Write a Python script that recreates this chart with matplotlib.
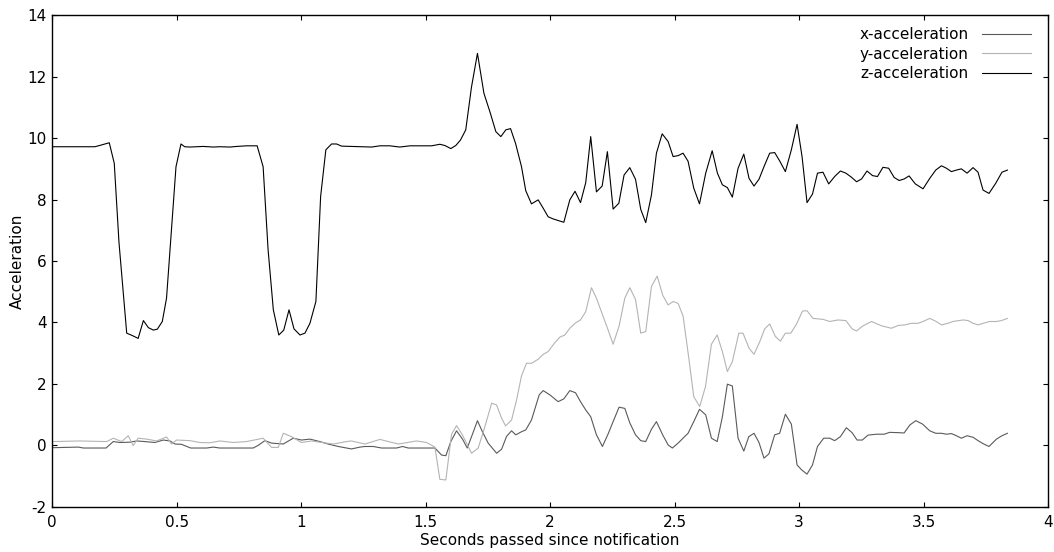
import matplotlib
matplotlib.use('Agg')
import matplotlib.pyplot as plt
from matplotlib.ticker import MultipleLocator, FormatStrFormatter

# time stamps (s) and readings for each axis
x_t = [0.000, 0.105, 0.125, 0.216, 0.245, 0.272, 0.312, 0.339, 0.372, 0.412,
       0.446, 0.473, 0.493, 0.519, 0.556, 0.620, 0.647, 0.673, 0.807, 0.828,
       0.854, 0.881, 0.928, 0.968, 1.001, 1.035, 1.075, 1.108, 1.149, 1.202,
       1.236, 1.256, 1.289, 1.323, 1.383, 1.407, 1.430, 1.537, 1.564, 1.581,
       1.601, 1.624, 1.648, 1.667, 1.688, 1.708, 1.728, 1.751, 1.785, 1.805,
       1.825, 1.845, 1.862, 1.885, 1.902, 1.925, 1.956, 1.972, 1.999, 2.032,
       2.055, 2.079, 2.102, 2.122, 2.143, 2.163, 2.186, 2.210, 2.233, 2.253,
       2.277, 2.300, 2.320, 2.343, 2.364, 2.384, 2.407, 2.427, 2.452, 2.474,
       2.491, 2.514, 2.534, 2.554, 2.577, 2.600, 2.625, 2.648, 2.671, 2.692,
       2.712, 2.732, 2.755, 2.778, 2.798, 2.819, 2.839, 2.859, 2.879, 2.902,
       2.922, 2.945, 2.969, 2.992, 3.010, 3.032, 3.054, 3.074, 3.099, 3.123,
       3.143, 3.166, 3.190, 3.213, 3.233, 3.254, 3.277, 3.311, 3.342, 3.364,
       3.400, 3.422, 3.445, 3.469, 3.496, 3.525, 3.549, 3.572, 3.592, 3.612,
       3.632, 3.652, 3.675, 3.699, 3.719, 3.742, 3.763, 3.793, 3.815, 3.837]
x_acc = [-0.08, -0.06, -0.09, -0.09, 0.12, 0.09, 0.10, 0.14, 0.12, 0.09,
         0.17, 0.14, 0.04, 0.03, -0.09, -0.09, -0.06, -0.09, -0.09, 0.00,
         0.15, 0.07, 0.04, 0.23, 0.17, 0.20, 0.12, 0.04, -0.04, -0.12,
         -0.06, -0.04, -0.04, -0.09, -0.09, -0.04, -0.09, -0.09, -0.32, -0.34,
         0.12, 0.47, 0.20, -0.09, 0.36, 0.80, 0.44, 0.07, -0.26, -0.13,
         0.29, 0.47, 0.34, 0.44, 0.50, 0.82, 1.64, 1.78, 1.64, 1.42,
         1.51, 1.78, 1.71, 1.42, 1.15, 0.93, 0.34, -0.04, 0.37, 0.77,
         1.24, 1.20, 0.73, 0.34, 0.15, 0.12, 0.52, 0.77, 0.34, 0.01,
         -0.09, 0.07, 0.23, 0.39, 0.77, 1.17, 0.99, 0.23, 0.12, 0.93,
         1.99, 1.93, 0.23, -0.19, 0.28, 0.39, 0.09, -0.42, -0.28, 0.34,
         0.39, 1.01, 0.69, -0.64, -0.80, -0.94, -0.64, -0.04, 0.23, 0.23,
         0.15, 0.28, 0.57, 0.41, 0.17, 0.17, 0.33, 0.36, 0.36, 0.42,
         0.41, 0.40, 0.66, 0.80, 0.69, 0.47, 0.39, 0.39, 0.36, 0.38,
         0.31, 0.23, 0.31, 0.26, 0.15, 0.04, -0.04, 0.20, 0.31, 0.39]

y_t = [0.000, 0.111, 0.219, 0.245, 0.279, 0.305, 0.325, 0.345, 0.379, 0.419,
       0.459, 0.479, 0.499, 0.553, 0.593, 0.633, 0.673, 0.727, 0.781, 0.847,
       0.881, 0.908, 0.928, 0.961, 1.001, 1.042, 1.082, 1.129, 1.182, 1.202,
       1.256, 1.316, 1.390, 1.463, 1.504, 1.537, 1.557, 1.581, 1.604, 1.624,
       1.648, 1.684, 1.711, 1.738, 1.765, 1.785, 1.805, 1.821, 1.845, 1.865,
       1.885, 1.905, 1.925, 1.952, 1.972, 1.992, 2.019, 2.039, 2.059, 2.079,
       2.103, 2.122, 2.143, 2.166, 2.186, 2.213, 2.233, 2.253, 2.277, 2.300,
       2.320, 2.343, 2.364, 2.384, 2.407, 2.430, 2.452, 2.474, 2.494, 2.514,
       2.534, 2.558, 2.577, 2.601, 2.624, 2.648, 2.671, 2.692, 2.712, 2.732,
       2.758, 2.775, 2.799, 2.819, 2.842, 2.862, 2.882, 2.905, 2.925, 2.945,
       2.967, 2.990, 3.014, 3.032, 3.056, 3.096, 3.123, 3.157, 3.188, 3.213,
       3.231, 3.255, 3.291, 3.331, 3.371, 3.398, 3.425, 3.451, 3.478, 3.498,
       3.525, 3.549, 3.572, 3.598, 3.618, 3.659, 3.679, 3.699, 3.719, 3.739,
       3.766, 3.793, 3.813, 3.837]
y_acc = [0.12, 0.14, 0.12, 0.23, 0.12, 0.31, -0.01, 0.23, 0.20, 0.14,
         0.27, 0.04, 0.17, 0.15, 0.09, 0.08, 0.14, 0.09, 0.12, 0.23,
         -0.07, -0.07, 0.39, 0.28, 0.09, 0.14, 0.09, 0.04, 0.12, 0.14,
         0.04, 0.19, 0.04, 0.14, 0.09, -0.06, -1.11, -1.13, 0.36, 0.64,
         0.33, -0.26, -0.09, 0.61, 1.37, 1.31, 0.88, 0.63, 0.82, 1.47,
         2.26, 2.67, 2.67, 2.80, 2.96, 3.05, 3.34, 3.52, 3.59, 3.81,
         3.99, 4.08, 4.35, 5.13, 4.79, 4.19, 3.75, 3.29, 3.88, 4.79,
         5.13, 4.75, 3.65, 3.70, 5.17, 5.51, 4.89, 4.57, 4.68, 4.62,
         4.21, 2.78, 1.58, 1.26, 1.91, 3.29, 3.59, 3.05, 2.40, 2.72,
         3.65, 3.65, 3.16, 2.96, 3.37, 3.79, 3.95, 3.54, 3.39, 3.65,
         3.65, 3.95, 4.37, 4.38, 4.13, 4.10, 4.03, 4.08, 4.06, 3.79,
         3.72, 3.88, 4.03, 3.89, 3.81, 3.90, 3.92, 3.97, 3.97, 4.03,
         4.13, 4.04, 3.92, 3.97, 4.03, 4.08, 4.06, 3.97, 3.92, 3.97,
         4.03, 4.03, 4.06, 4.13]

z_t = [0.000, 0.171, 0.190, 0.229, 0.249, 0.268, 0.299, 0.322, 0.345, 0.366,
       0.386, 0.406, 0.422, 0.442, 0.459, 0.497, 0.517, 0.532, 0.553, 0.580,
       0.606, 0.627, 0.647, 0.673, 0.714, 0.741, 0.781, 0.823, 0.847, 0.867,
       0.888, 0.910, 0.930, 0.951, 0.971, 0.995, 1.015, 1.035, 1.059, 1.078,
       1.099, 1.122, 1.142, 1.162, 1.283, 1.316, 1.356, 1.396, 1.437, 1.524,
       1.557, 1.577, 1.601, 1.621, 1.640, 1.661, 1.684, 1.708, 1.734, 1.758,
       1.782, 1.802, 1.822, 1.841, 1.861, 1.885, 1.902, 1.925, 1.952, 1.972,
       1.992, 2.012, 2.055, 2.079, 2.100, 2.122, 2.143, 2.163, 2.186, 2.209,
       2.230, 2.253, 2.276, 2.297, 2.320, 2.343, 2.364, 2.384, 2.407, 2.427,
       2.450, 2.474, 2.494, 2.514, 2.534, 2.554, 2.577, 2.600, 2.625, 2.651,
       2.672, 2.692, 2.712, 2.732, 2.755, 2.778, 2.799, 2.819, 2.839, 2.859,
       2.882, 2.902, 2.922, 2.945, 2.969, 2.992, 3.012, 3.032, 3.054, 3.074,
       3.096, 3.119, 3.143, 3.166, 3.188, 3.210, 3.231, 3.251, 3.273, 3.295,
       3.315, 3.337, 3.360, 3.382, 3.402, 3.422, 3.442, 3.467, 3.498, 3.525,
       3.549, 3.572, 3.592, 3.612, 3.632, 3.652, 3.675, 3.699, 3.719, 3.739,
       3.763, 3.790, 3.815, 3.837]
z_acc = [9.72, 9.72, 9.76, 9.85, 9.18, 6.60, 3.65, 3.57, 3.48, 4.06,
         3.83, 3.75, 3.78, 4.03, 4.79, 9.07, 9.81, 9.72, 9.71, 9.72,
         9.73, 9.72, 9.71, 9.72, 9.71, 9.73, 9.75, 9.75, 9.07, 6.36,
         4.41, 3.59, 3.75, 4.41, 3.79, 3.59, 3.65, 3.97, 4.68, 8.10,
         9.62, 9.81, 9.81, 9.74, 9.71, 9.75, 9.75, 9.71, 9.75, 9.75,
         9.80, 9.76, 9.66, 9.76, 9.94, 10.27, 11.66, 12.76, 11.46, 10.86,
         10.21, 10.05, 10.27, 10.31, 9.83, 9.07, 8.29, 7.86, 7.99, 7.72,
         7.44, 7.37, 7.26, 7.99, 8.27, 7.90, 8.55, 10.05, 8.25, 8.44,
         9.56, 7.69, 7.88, 8.80, 9.04, 8.66, 7.68, 7.25, 8.15, 9.51,
         10.14, 9.89, 9.40, 9.43, 9.51, 9.25, 8.37, 7.86, 8.86, 9.59,
         8.86, 8.48, 8.39, 8.08, 9.02, 9.48, 8.69, 8.44, 8.66, 9.07,
         9.51, 9.53, 9.26, 8.91, 9.62, 10.45, 9.40, 7.90, 8.18, 8.86,
         8.89, 8.51, 8.75, 8.93, 8.86, 8.73, 8.58, 8.67, 8.93, 8.78,
         8.75, 9.05, 9.02, 8.72, 8.62, 8.67, 8.77, 8.51, 8.35, 8.69,
         8.96, 9.10, 9.02, 8.91, 8.96, 9.00, 8.86, 9.04, 8.89, 8.31,
         8.20, 8.53, 8.89, 8.96]

plt.rcParams['font.family'] = 'DejaVu Sans'
plt.rcParams['font.size'] = 11
plt.rcParams['axes.unicode_minus'] = False

fig = plt.figure(figsize=(10.54, 5.52), dpi=100)
ax = fig.add_axes([0.0496, 0.0821, 0.9447, 0.8902])

ax.plot(x_t, x_acc, color='#5a5a5a', lw=0.8, label='x-acceleration')
ax.plot(y_t, y_acc, color='#b4b4b4', lw=0.8, label='y-acceleration')
ax.plot(z_t, z_acc, color='black', lw=0.8, label='z-acceleration')

ax.set_xlim(0, 4)
ax.set_ylim(-2, 14)
ax.xaxis.set_major_locator(MultipleLocator(0.5))
ax.yaxis.set_major_locator(MultipleLocator(2))
ax.xaxis.set_major_formatter(FormatStrFormatter('%g'))
ax.yaxis.set_major_formatter(FormatStrFormatter('%g'))
ax.tick_params(direction='in', length=3.5, width=0.8, top=True, right=True,
               labelsize=11)
ax.tick_params(axis='x', pad=6)
ax.tick_params(axis='y', pad=4)
for s in ax.spines.values():
    s.set_linewidth(1.0)

ax.set_xlabel('Seconds passed since notification', labelpad=2)
ax.set_ylabel('Acceleration', labelpad=2)

ax.legend(loc='upper right', bbox_to_anchor=(0.994, 0.998), frameon=False,
          markerfirst=False, handlelength=3.2, labelspacing=0.3,
          handletextpad=0.9, borderaxespad=0.3, fontsize=11)

fig.savefig('out.png', dpi=100)
